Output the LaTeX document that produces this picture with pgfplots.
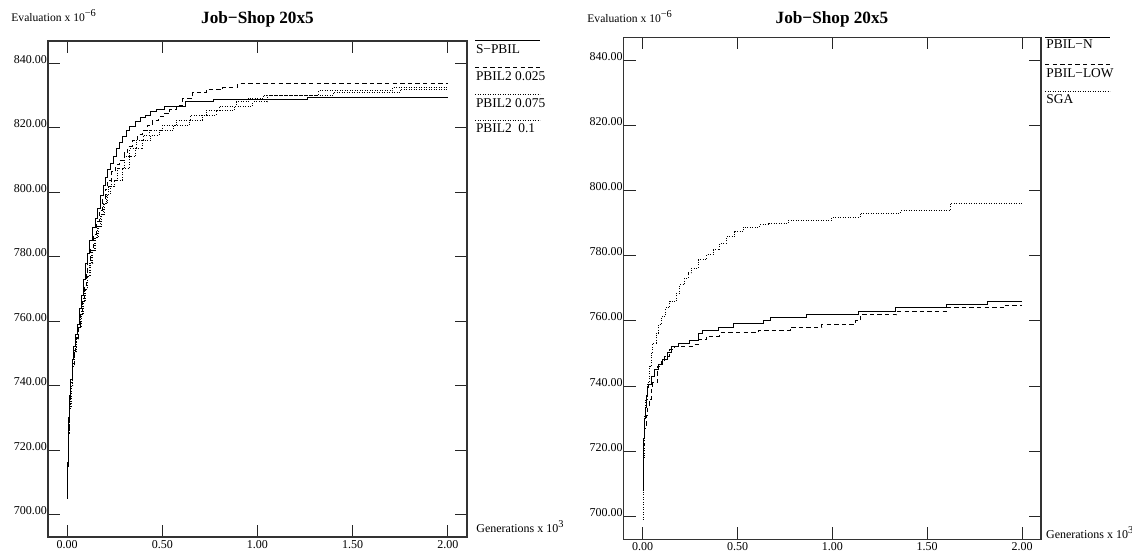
\documentclass[border=0pt]{standalone}
\usepackage{fontspec}
\setmainfont{Liberation Serif}
\usepackage{pgfplots}
\pgfplotsset{compat=1.18}

\pgfplotsset{
  jsbase/.style={
    scale only axis,
    xmin=-0.1, xmax=2.1, ymin=693, ymax=847,
    xtick={0,0.5,1,1.5,2},
    ytick={700,720,740,760,780,800,820,840},
    tick align=inside,
    major tick length=6pt,
    axis line style={line width=0.7pt, black!80},
    every tick/.style={line width=0.5pt, black!85},
    tick label style={font=\fontsize{6}{7}\selectfont},
    /pgf/number format/assume math mode=true,
    /pgf/number format/fixed,
    /pgf/number format/fixed zerofill,
    /pgf/number format/precision=2,
    yticklabel style={anchor=base east, inner sep=0pt, xshift=-0.3pt},
    xticklabel style={anchor=north, inner sep=0pt, yshift=-1.5pt},
  },
  solidline/.style={const plot, line width=0.5pt, black},
  dashedline/.style={const plot, line width=0.5pt, black, dash pattern=on 2.2pt off 1.6pt},
  dottedline/.style={const plot, line width=0.45pt, black, dash pattern=on 0.45pt off 0.8pt},
}

\begin{document}
\begin{tikzpicture}
\useasboundingbox (0,0) rectangle (566pt,276pt);

% ---------------- Left panel ----------------
\begin{axis}[jsbase, at={(24pt,7.5pt)}, anchor=south west, width=209.5pt, height=248pt]
% S-PBIL
\addplot[solidline] coordinates {
(0,705) (0.003,715) (0.006,722) (0.01,730) (0.015,737) (0.02,742) (0.027,748) (0.035,752)
(0.045,756) (0.055,759) (0.065,764) (0.075,768) (0.085,773) (0.095,778) (0.105,781)
(0.12,785) (0.135,789) (0.15,792) (0.16,795) (0.175,799) (0.19,802) (0.2,804.5)
(0.215,807) (0.23,809) (0.245,811) (0.26,813.5) (0.275,815.5) (0.29,817.5) (0.31,819.3)
(0.33,820.5) (0.36,822) (0.385,823.2) (0.41,824) (0.44,825) (0.47,825.7) (0.51,826.7)
(0.62,828.1) (0.77,828.9) (1.26,829.5) (2.0,829.5)
};
% PBIL2 0.025
\addplot[dashedline] coordinates {
(0,706) (0.004,716) (0.008,726) (0.013,734) (0.02,741) (0.028,747) (0.037,751) (0.047,755)
(0.058,758.5) (0.07,763) (0.08,767) (0.09,771) (0.1,775) (0.11,779) (0.125,783) (0.14,787)
(0.155,791) (0.17,794.5) (0.185,798) (0.2,801) (0.215,803.8) (0.235,806.5) (0.255,808.5)
(0.275,810) (0.3,812.3) (0.32,814.3) (0.342,816.2) (0.37,818) (0.398,819.3) (0.42,820.8)
(0.45,822.4) (0.48,823.5) (0.512,824.5) (0.54,825.8) (0.573,827.1) (0.608,829.1)
(0.66,830.9) (0.731,831.9) (0.818,832.7) (0.897,833.8) (2.0,833.8)
};
% PBIL2 0.075
\addplot[dottedline] coordinates {
(0,705) (0.004,716) (0.008,725) (0.013,733) (0.02,740) (0.028,746) (0.037,750.5) (0.048,754.5)
(0.06,758) (0.072,762) (0.083,766) (0.094,770) (0.105,774) (0.117,778) (0.13,782)
(0.145,786) (0.16,789.5) (0.175,793) (0.19,796.5) (0.205,799.5) (0.218,801.8)
(0.231,803.8) (0.265,807.5) (0.301,811) (0.33,813.5) (0.363,816.2) (0.4,817.8)
(0.433,819.3) (0.5,820.8) (0.573,822.4) (0.65,824) (0.731,825.5) (0.8,826.8)
(0.889,828.1) (0.95,829.2) (1.03,830.2) (1.32,831.5) (1.71,832.6) (2.0,832.6)
};
% PBIL2 0.1
\addplot[dottedline] coordinates {
(0,706) (0.004,716) (0.009,725) (0.014,733) (0.021,740) (0.03,746) (0.04,750.5) (0.05,754.5)
(0.062,758) (0.074,762) (0.086,766) (0.097,770) (0.109,774) (0.121,778) (0.135,782)
(0.15,786) (0.166,789.5) (0.182,793) (0.198,796.5) (0.214,799.5) (0.23,801.8)
(0.248,803.8) (0.29,807.5) (0.328,811) (0.36,813.5) (0.398,816.2) (0.44,817.8)
(0.485,819.3) (0.56,820.8) (0.643,822.4) (0.71,824) (0.784,825.5) (0.88,826.8)
(0.976,828.1) (1.05,830.2) (1.4,831) (1.75,832) (2.0,832)
};
\end{axis}

% ---------------- Right panel ----------------
\begin{axis}[jsbase, at={(311.85pt,6.35pt)}, anchor=south west, width=208.65pt, height=251pt]
% PBIL-N
\addplot[solidline] coordinates {
(0,708) (0.002,716) (0.005,724) (0.009,730) (0.013,733.5) (0.02,737) (0.027,739.5)
(0.033,740.5) (0.045,743) (0.06,745) (0.085,746.5) (0.107,748.1) (0.133,750.2)
(0.151,752.2) (0.187,753.2) (0.248,754) (0.292,756.1) (0.318,757.1) (0.398,758)
(0.477,759.1) (0.636,760.1) (0.676,761.1) (0.865,761.9) (1.137,762.9) (1.331,764)
(1.6,765) (1.82,766) (2.0,766)
};
% PBIL-LOW
\addplot[dashedline] coordinates {
(0,708) (0.003,716) (0.007,722) (0.012,727) (0.02,731) (0.027,734) (0.034,736) (0.045,739)
(0.054,741) (0.077,746) (0.1,748) (0.116,749.1) (0.143,751.2) (0.169,752.2) (0.266,752.7)
(0.292,754.2) (0.336,755.3) (0.407,756.3) (0.609,757) (0.777,758) (0.944,758.8)
(1.12,760) (1.146,761.9) (1.34,762.9) (1.6,764) (1.9,764.8) (2.0,764.8)
};
% SGA
\addplot[dottedline] coordinates {
(0,699) (0.002,708) (0.005,718) (0.008,725) (0.011,730.7) (0.017,736) (0.025,741)
(0.037,746.1) (0.045,750) (0.054,753.2) (0.072,756.3) (0.085,759) (0.099,761.4)
(0.12,764) (0.143,766) (0.178,768.5) (0.195,771.1) (0.222,773.1) (0.24,774.8)
(0.257,776.2) (0.292,778.7) (0.336,780.3) (0.371,781.8) (0.407,783.9) (0.442,785.9)
(0.486,787.4) (0.53,788.8) (0.618,789.5) (0.665,790) (0.768,790.8) (0.997,791.7)
(1.146,793.1) (1.36,793.8) (1.62,796) (2.0,796)
};
\end{axis}

% ---------------- Titles and axis labels ----------------
\node[anchor=base, inner sep=0pt, font=\bfseries\fontsize{8.6}{9}\selectfont] at (128.75pt,264pt) {Job−Shop 20x5};
\node[anchor=base, inner sep=0pt, font=\bfseries\fontsize{8.6}{9}\selectfont] at (416pt,264pt) {Job−Shop 20x5};

\node[anchor=base west, inner sep=0pt, font=\fontsize{5.8}{6}\selectfont] at (5.5pt,265pt) {Evaluation x 10\textsuperscript{\fontsize{5.2}{6}\selectfont −6}};
\node[anchor=base west, inner sep=0pt, font=\fontsize{5.8}{6}\selectfont] at (293.5pt,264.5pt) {Evaluation x 10\textsuperscript{\fontsize{5.2}{6}\selectfont −6}};

\node[anchor=base west, inner sep=0pt, font=\fontsize{6}{6}\selectfont] at (238pt,9.5pt) {Generations x 10\textsuperscript{\fontsize{5.2}{6}\selectfont 3}};
\node[anchor=base west, inner sep=0pt, font=\fontsize{6}{6}\selectfont] at (522.85pt,6.5pt) {Generations x 10\textsuperscript{\fontsize{5.2}{6}\selectfont 3}};

% ---------------- Legends ----------------
\begin{scope}[font=\fontsize{6.7}{7}\selectfont]
\draw[line width=0.5pt] (237.5pt,255.65pt) -- (270pt,255.65pt);
\node[anchor=base west, inner sep=0pt] at (237.8pt,249pt) {S−PBIL};
\draw[line width=0.5pt, dash pattern=on 2.2pt off 1.6pt] (237.5pt,242.15pt) -- (270pt,242.15pt);
\node[anchor=base west, inner sep=0pt] at (237.8pt,235.5pt) {PBIL2 0.025};
\draw[line width=0.45pt, dash pattern=on 0.45pt off 0.8pt] (237.5pt,229pt) -- (270pt,229pt);
\node[anchor=base west, inner sep=0pt] at (237.8pt,222.35pt) {PBIL2 0.075};
\draw[line width=0.45pt, dash pattern=on 0.45pt off 0.8pt] (237.5pt,216pt) -- (270pt,216pt);
\node[anchor=base west, inner sep=0pt] at (237.8pt,209.5pt) {PBIL2~~0.1};

\draw[line width=0.5pt] (522.5pt,257.35pt) -- (555pt,257.35pt);
\node[anchor=base west, inner sep=0pt] at (523pt,251.5pt) {PBIL−N};
\draw[line width=0.5pt, dash pattern=on 2.2pt off 1.6pt] (522.5pt,243.85pt) -- (555pt,243.85pt);
\node[anchor=base west, inner sep=0pt] at (523pt,237.35pt) {PBIL−LOW};
\draw[line width=0.45pt, dash pattern=on 0.45pt off 0.8pt] (522.5pt,230.5pt) -- (555pt,230.5pt);
\node[anchor=base west, inner sep=0pt] at (523pt,224.35pt) {SGA};
\end{scope}
\end{tikzpicture}
\end{document}
